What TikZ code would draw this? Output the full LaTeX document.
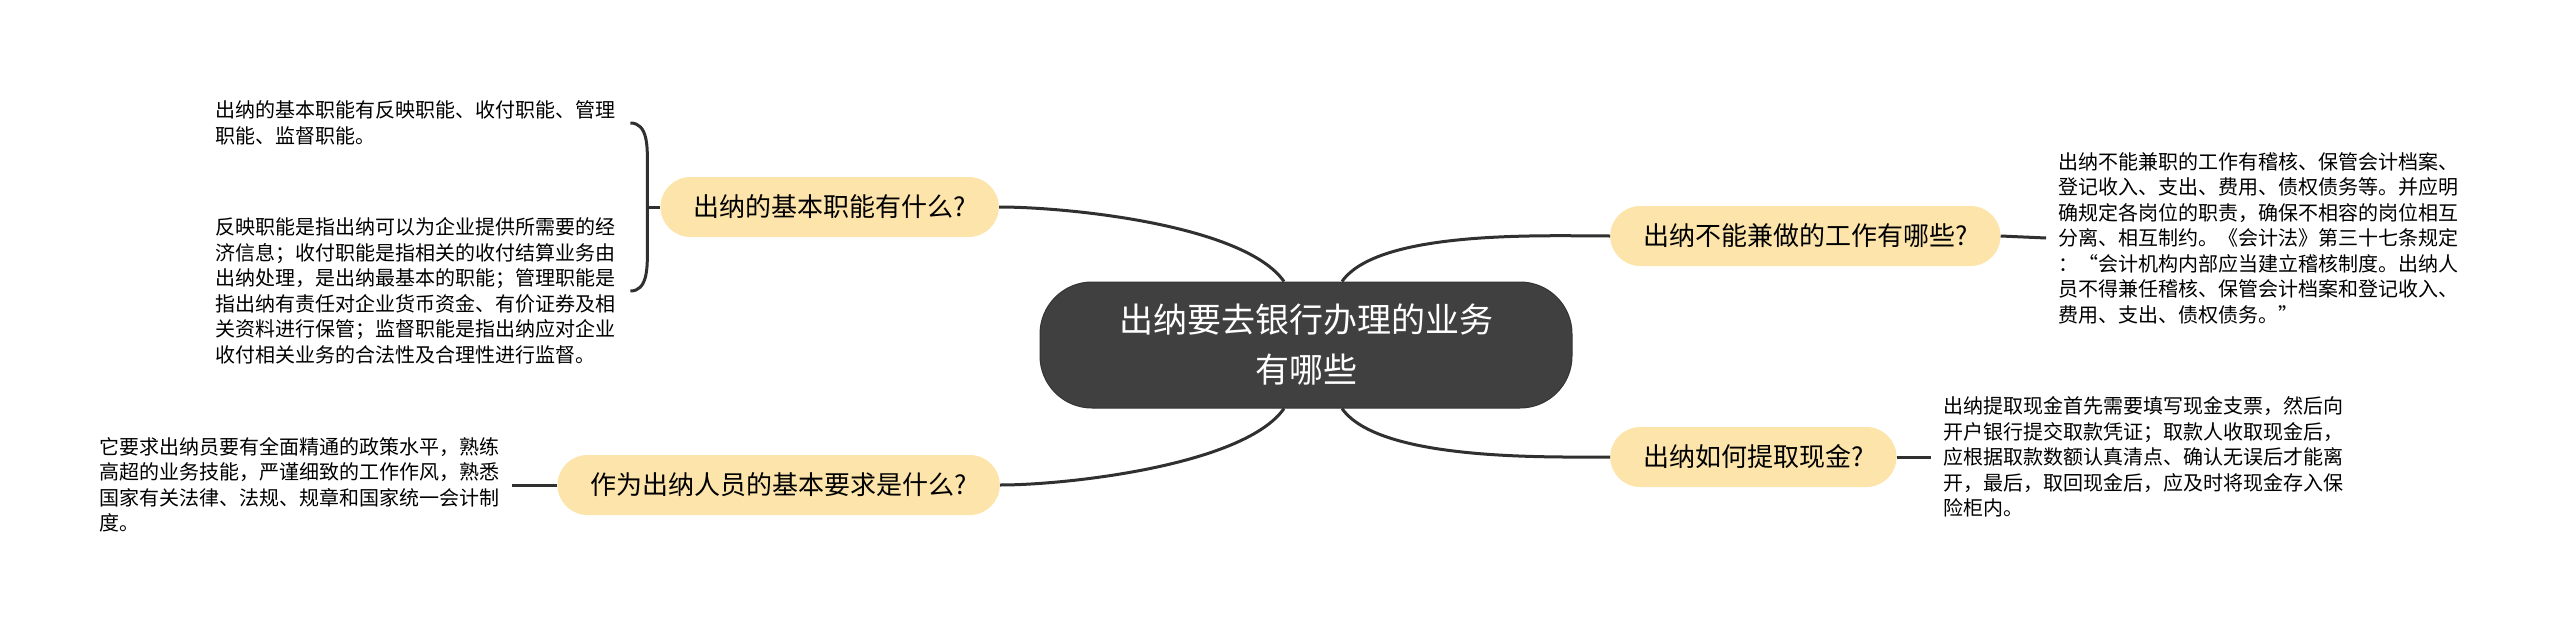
\documentclass[tikz,border=0pt]{standalone}
\usepackage{fontspec}
\setmainfont{Noto Sans CJK SC}
\usepackage{tikz}
\definecolor{topicfill}{RGB}{64,64,64}
\definecolor{subfill}{RGB}{252,228,170}
\definecolor{linecol}{RGB}{48,48,48}

\begin{document}
\begin{tikzpicture}[x=1pt,y=-1pt,
  topic/.style={rectangle,rounded corners=52pt,fill=topicfill,draw=topicfill!80!black,line width=1pt,text=white,minimum width=532pt,minimum height=126pt,align=center,font=\fontsize{34}{50}\selectfont},
  sub/.style={rectangle,rounded corners=30pt,fill=subfill,minimum height=60pt,inner xsep=33pt,font=\fontsize{26}{30}\selectfont},
  note/.style={align=left,inner xsep=12pt,inner ysep=0pt,font=\fontsize{20}{25.5}\selectfont},
  link/.style={draw=linecol,line width=3pt}]
\useasboundingbox (0,0) rectangle (2560,634);

\node[topic] (m) at (1306,345) {出纳要去银行办理的业务\\有哪些};

\node[sub,anchor=east] (l1) at (999,207) {出纳的基本职能有什么?};
\node[sub,anchor=east] (l2) at (1000,485) {作为出纳人员的基本要求是什么?};
\node[sub,anchor=west] (r1) at (1610,236) {出纳不能兼做的工作有哪些?};
\node[sub,anchor=west] (r2) at (1610,457) {出纳如何提取现金?};

\node[note,anchor=west] (l1a) at (203,123) {出纳的基本职能有反映职能、收付职能、管理\\职能、监督职能。};
\node[note,anchor=west] (l1b) at (203,291) {反映职能是指出纳可以为企业提供所需要的经\\济信息；收付职能是指相关的收付结算业务由\\出纳处理，是出纳最基本的职能；管理职能是\\指出纳有责任对企业货币资金、有价证券及相\\关资料进行保管；监督职能是指出纳应对企业\\收付相关业务的合法性及合理性进行监督。};
\node[note,anchor=east] (l2a) at (512,485) {它要求出纳员要有全面精通的政策水平，熟练\\高超的业务技能，严谨细致的工作作风，熟悉\\国家有关法律、法规、规章和国家统一会计制\\度。};
\node[note,anchor=west] (r1a) at (2046,238) {出纳不能兼职的工作有稽核、保管会计档案、\\登记收入、支出、费用、债权债务等。并应明\\确规定各岗位的职责，确保不相容的岗位相互\\分离、相互制约。《会计法》第三十七条规定\\：“会计机构内部应当建立稽核制度。出纳人\\员不得兼任稽核、保管会计档案和登记收入、\\费用、支出、债权债务。”};
\node[note,anchor=west] (r2a) at (1931,457) {出纳提取现金首先需要填写现金支票，然后向\\开户银行提交取款凭证；取款人收取现金后，\\应根据取款数额认真清点、确认无误后才能离\\开，最后，取回现金后，应及时将现金存入保\\险柜内。};

% main branches
\draw[link] ([xshift=-22pt]m.north) to[out=125,in=0,looseness=0.6] (l1.east);
\draw[link] ([xshift=36pt]m.north) to[out=55,in=180,looseness=0.6] (r1.west);
\draw[link] ([xshift=-22pt]m.south) to[out=-125,in=0,looseness=0.6] (l2.east);
\draw[link] ([xshift=36pt]m.south) to[out=-55,in=180,looseness=0.6] (r2.west);

% notes
\draw[link] (r1.east) -- (r1a.west);
\draw[link] (r2.east) -- (r2a.west);
\draw[link] (l2.west) -- (l2a.east);

\coordinate (brace) at ([xshift=20pt]l1a.east |- l1.west);
\draw[link] ([xshift=3pt]l1a.east) to[out=0,in=90] ++(17,42) -- ++(0,85) to[out=-90,in=0] ([xshift=3pt]l1b.east);
\draw[link] (brace) -- (l1.west);
\end{tikzpicture}
\end{document}
